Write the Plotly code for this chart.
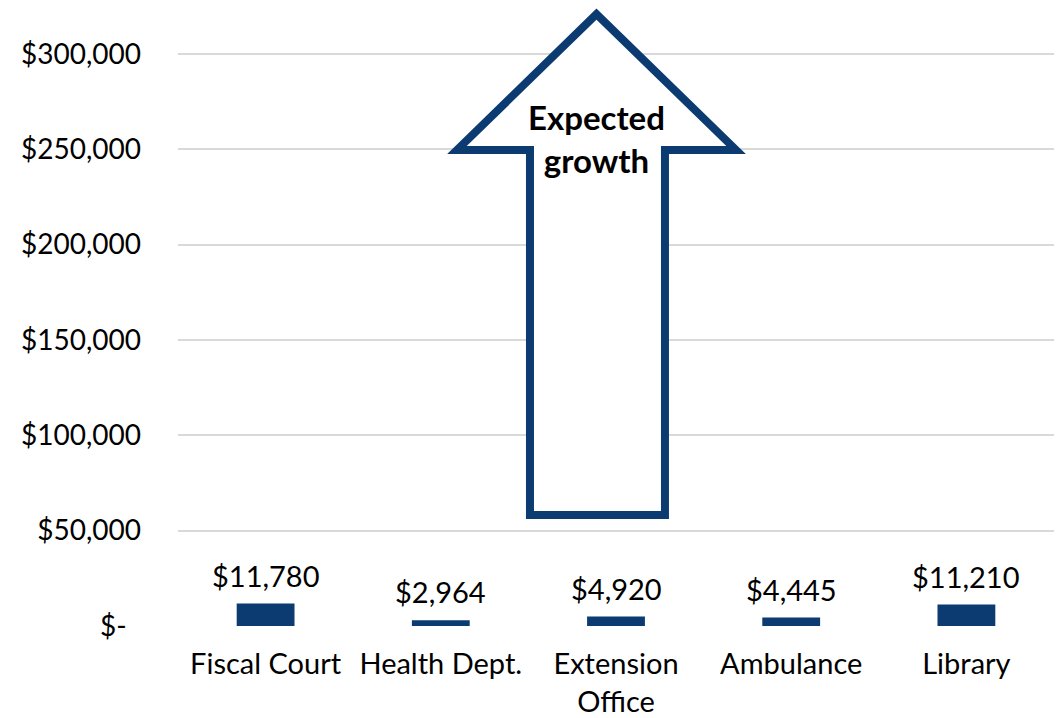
import plotly.graph_objects as go

categories = ["Fiscal Court", "Health Dept.", "Extension<br>Office", "Ambulance", "Library"]
values = [11780, 2964, 4920, 4445, 11210]
value_labels = ["$11,780", "$2,964", "$4,920", "$4,445", "$11,210"]
y_tickvals = [0, 50000, 100000, 150000, 200000, 250000, 300000]
y_ticktext = ["$-\u00a0\u00a0", "$50,000", "$100,000", "$150,000", "$200,000", "$250,000", "$300,000"]

BLUE = "#0b3b71"
FONT = "Lato"

fig = go.Figure()
fig.add_trace(go.Bar(x=categories, y=values, marker=dict(color=BLUE, line=dict(width=0)),
                     width=0.33, showlegend=False, hoverinfo="skip"))

for c, v, t in zip(categories, values, value_labels):
    fig.add_annotation(x=c, y=v, text=t, showarrow=False, yanchor="bottom", yshift=9,
                       font=dict(family=FONT, size=29, color="#000000"))

# Arrow shape (paper coordinates)
pts = [(0.4018, 0.1773), (0.5559, 0.1773), (0.5559, 0.7604), (0.6370, 0.7604),
       (0.4777, 0.9776), (0.3185, 0.7604), (0.4018, 0.7604)]
path = "M " + " L ".join(f"{x},{y}" for x, y in pts) + " Z"
fig.add_shape(type="path", path=path, xref="paper", yref="paper",
              line=dict(color=BLUE, width=8), fillcolor="white", layer="above")
fig.add_annotation(x=0.4783, y=0.778, xref="paper", yref="paper", xanchor="center", yanchor="middle",
                   text="<b>Expected<br>growth</b>", showarrow=False,
                   font=dict(family=FONT, size=33, color="#000000"))

fig.update_layout(
    width=1056, height=718,
    margin=dict(l=178, r=2, t=0, b=92, autoexpand=False),
    paper_bgcolor="white", plot_bgcolor="white",
    font=dict(family=FONT, size=28, color="#000000"),
)
fig.update_yaxes(range=[0, 328300], tickvals=y_tickvals, ticktext=y_ticktext,
                 showgrid=True, gridcolor="#d9d9d9", gridwidth=2, zeroline=False,
                 showline=False, ticks="", ticklabelstandoff=36, automargin=False,
                 tickfont=dict(family=FONT, size=28, color="#000000"))
fig.update_xaxes(showgrid=False, showline=False, ticks="", ticklabelstandoff=18, automargin=False,
                 tickfont=dict(family=FONT, size=29, color="#000000"))

fig.write_html("out.html", config={"displayModeBar": False},
               post_script="document.body.style.margin='0';")
